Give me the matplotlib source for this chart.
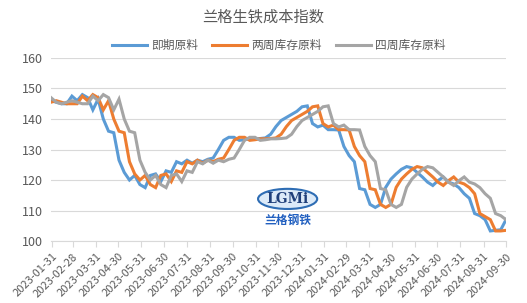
import numpy as np
import pandas as pd
import matplotlib
matplotlib.use('Agg')
import matplotlib.pyplot as plt
import matplotlib.dates as mdates
from matplotlib.patches import Ellipse

plt.rcParams['font.family'] = ['Noto Sans CJK SC', 'DejaVu Sans']

dates = pd.date_range('2023-01-30', periods=88, freq='7D')

spot = [146, 145.5, 145, 145, 147.5, 146, 148, 147, 143, 146.5,
        140, 136, 135.5, 126.5, 122.5, 120, 121.5, 118.5, 117.5, 121.5,
        122, 119.5, 123, 122.5, 126, 125.3, 126.5, 125.5, 126.5, 126,
        126.8, 127.2, 130, 133, 134, 134, 133, 133.2, 133.5, 133.5,
        133.6, 133.8, 135, 137.5, 139.5, 140.5, 141.5, 142.5, 144, 144.3,
        138.5, 137.4, 138, 136.5, 136.5, 136.4, 131, 128, 126, 117.2,
        116.8, 112, 111, 112, 117.6, 120.3, 122, 123.5, 124.4, 124,
        122.5, 121, 119.3, 118.2, 119.8, 121, 119.3, 118.7, 117.5, 115.5,
        114, 109, 108.3, 107, 103.3, 103.5, 103.7, 107]

two_week = [145.5, 146, 145.5, 145, 145, 145, 147.5, 146, 148, 147,
            143, 146, 140, 136, 135.5, 126, 122, 120, 121.5, 118.5,
            117.5, 121.5, 122, 119.5, 123, 122.5, 126, 125.3, 126.5, 125.5,
            126.5, 126, 126.8, 127.2, 130, 133, 134, 134, 133, 133.2,
            133.5, 133.5, 133.6, 133.8, 135, 137.5, 139.5, 140.5, 141.5, 142.5,
            144, 144.3, 138.5, 137.4, 138, 136.5, 136.5, 136.4, 131, 128,
            126, 117.2, 116.8, 112, 111, 112, 117.6, 120.3, 122, 123.5,
            124.4, 124, 122.5, 121, 119.3, 118.2, 119.8, 121, 119.3, 118.7,
            117.5, 115.5, 109, 108, 107, 103.3, 103.3, 103.5]

four_week = [147, 145.5, 145, 145.5, 146, 145.5, 145, 145, 147.5, 146,
             148, 147, 143, 146.5, 140, 136, 135.5, 126.5, 122.5, 120,
             121.5, 118.5, 117.5, 121.5, 122, 119.5, 123, 122.5, 126, 125.3,
             126.5, 125.5, 126.5, 126, 126.8, 127.2, 130, 133, 134, 134,
             133, 133.2, 133.5, 133.5, 133.6, 133.8, 135, 137.5, 139.5, 140.5,
             141.5, 142.5, 144, 144.3, 138.5, 137.4, 138, 136.5, 136.5, 136.4,
             131, 128, 126, 117.2, 116.8, 112, 111, 112, 117.6, 120.3,
             122, 123.5, 124.4, 124, 122.5, 121, 119.3, 118.2, 119.8, 121,
             119.3, 118.7, 117.5, 115.5, 114, 109, 108.3, 107]

names = ['即期原料', '两周库存原料', '四周库存原料']
colors = ['#5B9BD5', '#ED7D31', '#A5A5A5']
month_ticks = pd.date_range('2023-01-31', '2024-09-30', freq='ME')

fig = plt.figure(figsize=(5.27, 3.03), dpi=100)
ax = fig.add_axes([0.0968, 0.2046, 0.8634, 0.604])

for ys, name, c in zip([spot, two_week, four_week], names, colors):
    ax.plot(dates, ys, color=c, lw=2.2, label=name, solid_joinstyle='miter')

ax.set_ylim(100, 160)
ax.set_yticks(range(100, 161, 10))
ax.set_xlim(pd.Timestamp('2023-01-30'), pd.Timestamp('2024-09-30'))
ax.set_xticks(month_ticks)
ax.xaxis.set_major_formatter(mdates.DateFormatter('%Y-%m-%d'))
plt.setp(ax.get_xticklabels(), rotation=45, ha='right', rotation_mode='anchor')

ax.grid(axis='y', color='#D9D9D9', lw=0.8)
ax.set_axisbelow(True)
for s in ['top', 'right', 'left']:
    ax.spines[s].set_visible(False)
ax.spines['bottom'].set_color('#D9D9D9')
ax.tick_params(axis='y', length=0, labelsize=9, labelcolor='#595959', pad=6)
ax.tick_params(axis='x', length=4, color='#D9D9D9', labelsize=8, labelcolor='#595959')

fig.text(0.5, 0.945, '兰格生铁成本指数', ha='center', va='center', fontsize=11, color='#595959')
ax.legend(loc='center', bbox_to_anchor=(0.5, 1.07), ncol=3, frameon=False,
          fontsize=8.5, handlelength=3.0, columnspacing=1.2, handletextpad=0.3,
          labelcolor='#595959')

# logo
ax.add_patch(Ellipse((0.52, 0.23), 0.13, 0.11, transform=ax.transAxes,
                     facecolor='#DCEAF8', edgecolor='#2E6DB4', lw=1.5, zorder=1))
ax.text(0.52, 0.23, 'LGMi', transform=ax.transAxes, ha='center', va='center',
        fontsize=10, fontweight='bold', color='#1F3F7A', family='DejaVu Serif', zorder=2)
ax.text(0.52, 0.115, '兰格钢铁', transform=ax.transAxes, ha='center', va='center',
        fontsize=8.5, fontweight='bold', color='#2260C0', zorder=2)

fig.savefig('out.png', dpi=100)
